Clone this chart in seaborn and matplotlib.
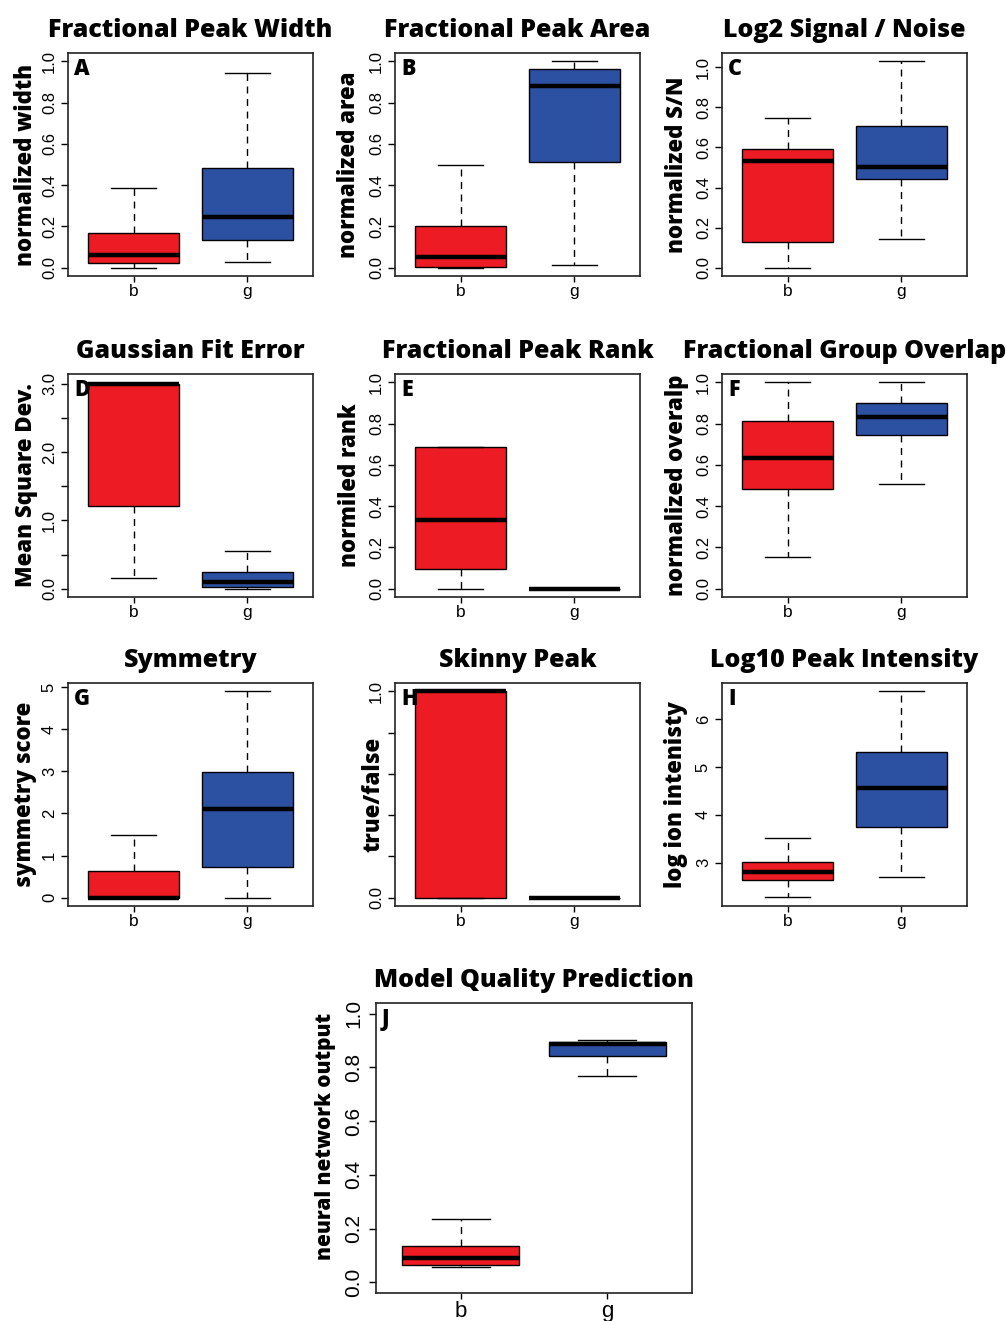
import numpy as np
import pandas as pd
import matplotlib
matplotlib.use("Agg")
import matplotlib.pyplot as plt
import seaborn as sns

# ---------------- data (five-number summaries) ----------------
# each list: [lower whisker, Q1, median, Q3, upper whisker]
groups = ["b", "g"]

width_b = [0.0, 0.021, 0.062, 0.167, 0.385]
width_g = [0.029, 0.135, 0.244, 0.485, 0.943]
area_b = [0.0, 0.005, 0.052, 0.202, 0.496]
area_g = [0.015, 0.512, 0.881, 0.961, 1.0]
sn_b = [0.0, 0.126, 0.531, 0.591, 0.745]
sn_g = [0.142, 0.444, 0.503, 0.709, 1.030]
fit_b = [0.151, 1.21, 3.0, 3.0, 3.0]
fit_g = [0.0, 0.03, 0.097, 0.243, 0.545]
rank_b = [0.0, 0.094, 0.334, 0.688, 0.688]
rank_g = [0.0, 0.0, 0.0, 0.0, 0.0]
overlap_b = [0.152, 0.481, 0.632, 0.810, 1.0]
overlap_g = [0.509, 0.744, 0.833, 0.901, 1.0]
sym_b = [0.0, 0.0, 0.0, 0.629, 1.497]
sym_g = [0.0, 0.74, 2.11, 2.99, 4.90]
skinny_b = [0.0, 0.0, 1.0, 1.0, 1.0]
skinny_g = [0.0, 0.0, 0.0, 0.0, 0.0]
inten_b = [2.29, 2.63, 2.80, 3.01, 3.51]
inten_g = [2.71, 3.74, 4.56, 5.32, 6.58]
nn_b = [0.056, 0.065, 0.089, 0.136, 0.237]
nn_g = [0.769, 0.843, 0.886, 0.895, 0.901]

titles = ["Fractional Peak Width", "Fractional Peak Area", "Log2 Signal / Noise",
          "Gaussian Fit Error", "Fractional Peak Rank", "Fractional Group Overlap",
          "Symmetry", "Skinny Peak", "Log10 Peak Intensity", "Model Quality Prediction"]
ylabels = ["normalized width", "normalized area", "normalized S/N",
           "Mean Square Dev.", "normiled rank", "normalized overalp",
           "symmetry score", "true/false", "log ion intenisty", "neural network output"]
letters = ["A", "B", "C", "D", "E", "F", "G", "H", "I", "J"]

tick01 = [0.0, 0.2, 0.4, 0.6, 0.8, 1.0]
lab01 = ["0.0", "0.2", "0.4", "0.6", "0.8", "1.0"]
yticks = [tick01, tick01, tick01,
          [0.0, 0.5, 1.0, 1.5, 2.0, 2.5, 3.0], tick01, tick01,
          [0, 1, 2, 3, 4, 5], tick01, [3, 4, 5, 6], tick01]
yticklabels = [lab01, lab01, lab01,
               ["0.0", "", "1.0", "", "2.0", "", "3.0"], lab01, lab01,
               ["0", "1", "2", "3", "4", "5"], ["0.0", "", "", "", "", "1.0"],
               ["3", "4", "5", "6"], lab01]
yranges = [(0, 1), (0, 1), (0, 1.03), (0, 3.02), (0, 1), (0, 1),
           (0, 4.9), (0, 1), (2.27, 6.58), (0, 1)]
series = [(width_b, width_g), (area_b, area_g), (sn_b, sn_g), (fit_b, fit_g),
          (rank_b, rank_g), (overlap_b, overlap_g), (sym_b, sym_g),
          (skinny_b, skinny_g), (inten_b, inten_g), (nn_b, nn_g)]

RED = "#ED1C24"
BLUE = "#2C50A2"
BOLD_FONT = ["Open Sans", "DejaVu Sans"]

plt.rcParams["font.family"] = ["Liberation Sans", "DejaVu Sans"]

W, H = 1006, 1321
fig = plt.figure(figsize=(W / 100, H / 100), dpi=100)
fig.patch.set_facecolor("white")

# axes boxes in pixels: (left, top, width, height)
col_left = [68, 395, 722]
row_top = [53, 374, 683]
boxes = []
for r in range(3):
    for c in range(3):
        boxes.append((col_left[c], row_top[r], 245, 223))
boxes.append((376, 1003, 316, 290))
label_off = [-42, -46, -45, -42, -45, -45, -43, -22, -46, -51]

for i in range(10):
    lx, ty, w, h = boxes[i]
    ax = fig.add_axes([lx / W, 1 - (ty + h) / H, w / W, h / H])
    b, g = series[i]
    df = pd.DataFrame({"group": [groups[0]] * len(b) + [groups[1]] * len(g),
                       "value": list(b) + list(g)})
    sns.boxplot(data=df, x="group", y="value", hue="group", palette=[RED, BLUE],
                saturation=1, width=0.8, whis=(0, 100), linecolor="black",
                linewidth=1, legend=False, ax=ax,
                medianprops=dict(linewidth=3.2, color="black"),
                whiskerprops=dict(linestyle=(0, (5, 4)), linewidth=1),
                capprops=dict(linewidth=1))
    lo, hi = yranges[i]
    pad = 0.04 * (hi - lo)
    ax.set_ylim(lo - pad, hi + pad)
    ax.set_xlim(-0.58, 1.58)
    ax.set_yticks(yticks[i])
    big = (i == 9)
    ax.set_yticklabels(yticklabels[i], rotation=90, va="center",
                       fontsize=15 if big else 12)
    ax.tick_params(axis="y", length=5, width=1, pad=3 if not big else 4)
    ax.tick_params(axis="x", length=4, width=1, pad=1.5, labelsize=16 if big else 12.5)
    for s in ax.spines.values():
        s.set_linewidth(1.2)
        s.set_color("#222222")
    ax.set_xlabel("")
    ax.set_ylabel(ylabels[i], family=BOLD_FONT, fontweight="heavy",
                  fontsize=15 if big else 16, va="center")
    ax.yaxis.set_label_coords(label_off[i] / w, 0.5 if not big else 0.54)
    ax.set_title(titles[i], family=BOLD_FONT, fontweight="heavy", fontsize=18,
                 pad=11.5)
    ax.text(6 / w, 1 - 4 / h, letters[i], transform=ax.transAxes, ha="left",
            va="top", family=BOLD_FONT, fontweight="heavy", fontsize=15.5)

fig.savefig("out.png", dpi=100, facecolor="white")
